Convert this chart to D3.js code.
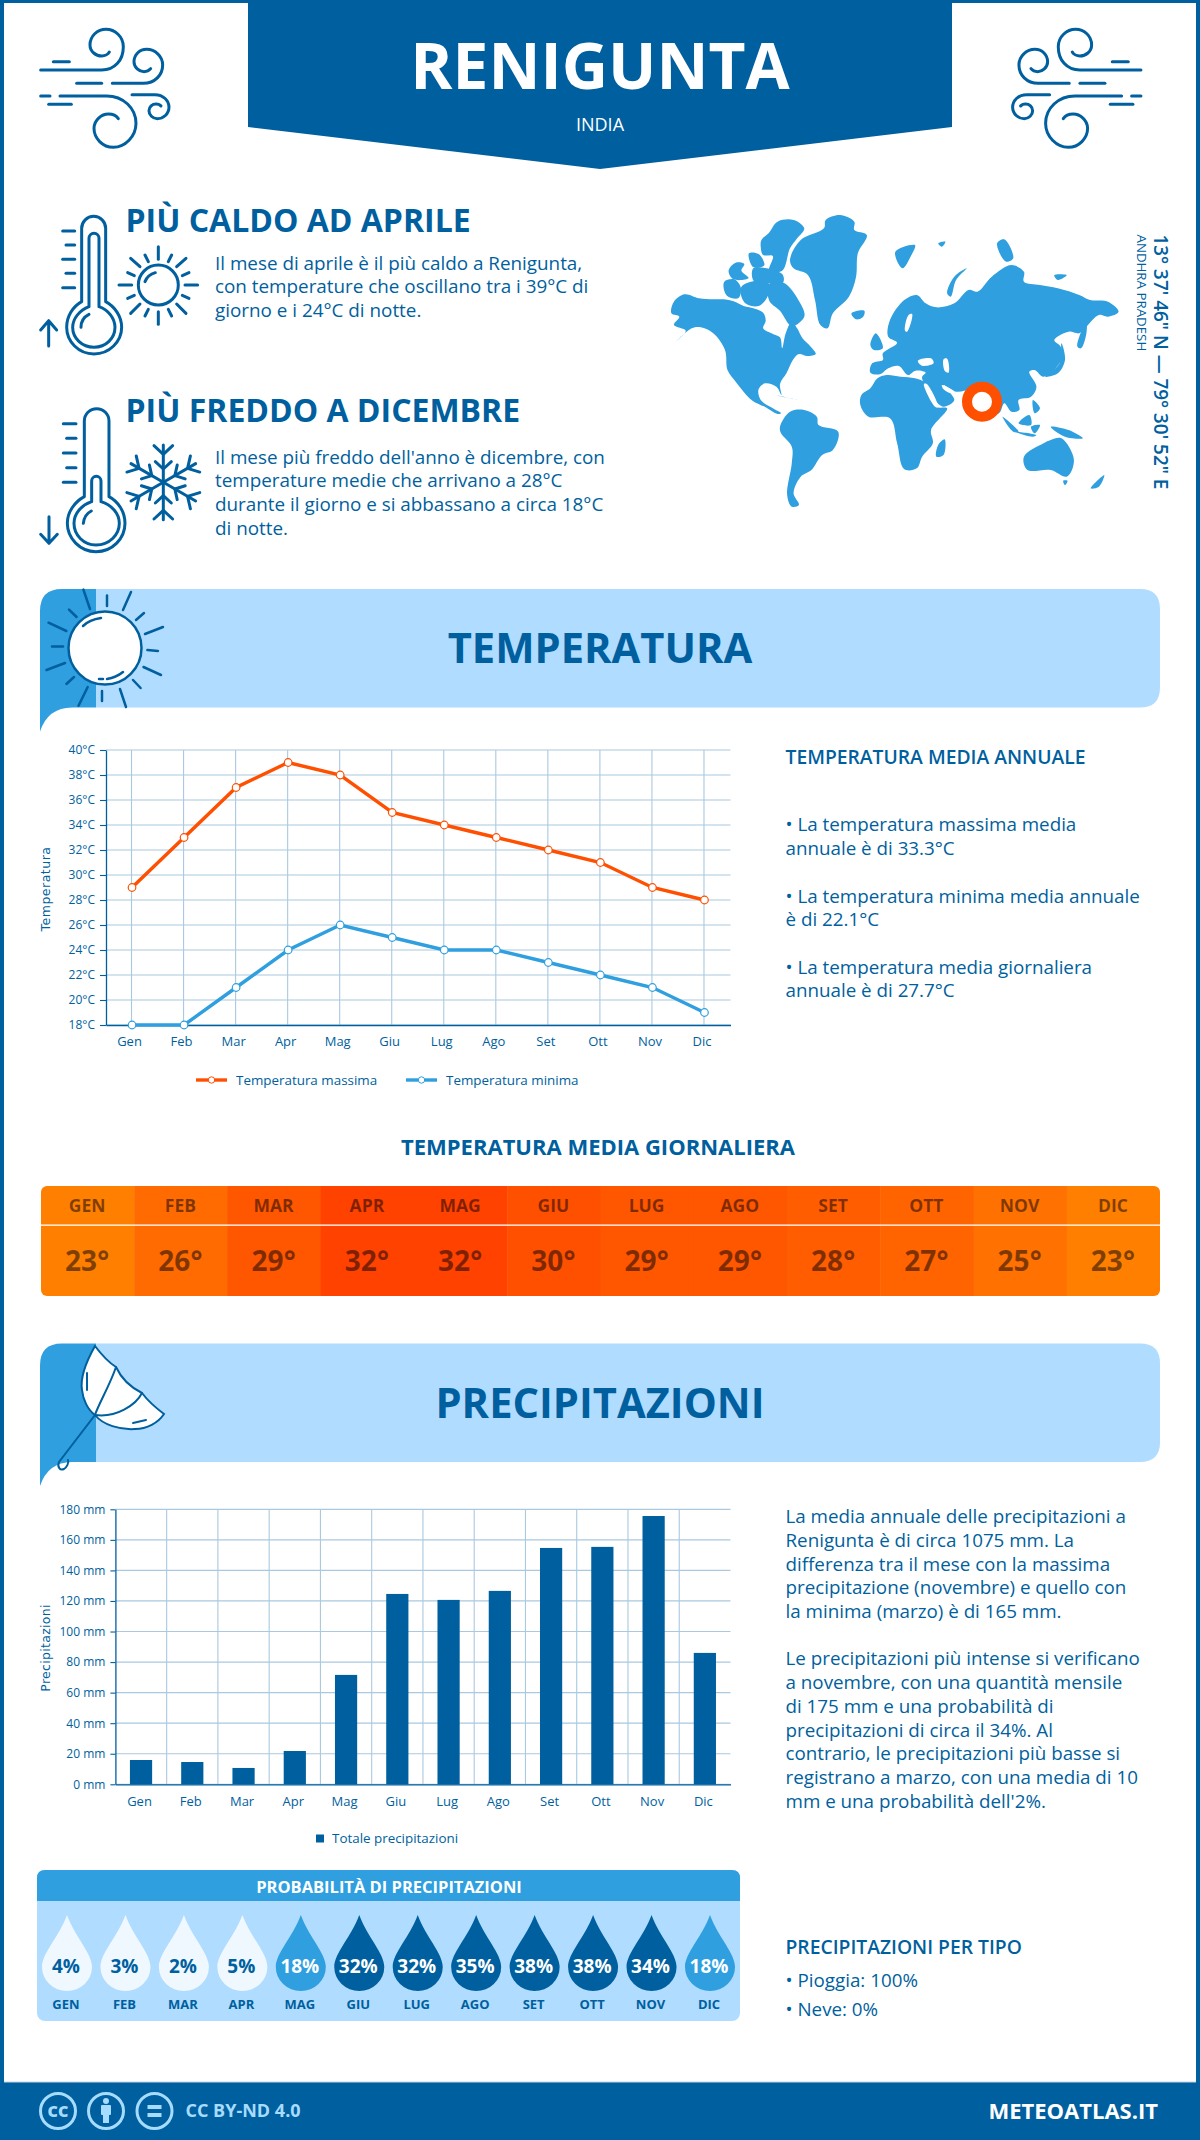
<!DOCTYPE html>
<html>
<head>
<meta charset="utf-8">
<script src="https://cdn.jsdelivr.net/npm/d3@7"></script>
<style>
  body { margin: 0; background: #fff; }
  svg { display: block; }
  text { font-family: "Open Sans", sans-serif; fill: #005f9e; }
</style>
</head>
<body>
<script>
const months = ['Gen', 'Feb', 'Mar', 'Apr', 'Mag', 'Giu', 'Lug', 'Ago', 'Set', 'Ott', 'Nov', 'Dic'];
const tempMax = [29, 33, 37, 39, 38, 35, 34, 33, 32, 31, 29, 28];
const tempMin = [18, 18, 21, 24, 26, 25, 24, 24, 23, 22, 21, 19];
const tempAvg = [23, 26, 29, 32, 32, 30, 29, 29, 28, 27, 25, 23];
const precip = [15.9, 14.6, 10.7, 21.8, 71.6, 124.6, 120.7, 126.6, 154.7, 155.4, 175.6, 86];
const rainChance = [4, 3, 2, 5, 18, 32, 32, 35, 38, 38, 34, 18];
const tempTicks = [18, 20, 22, 24, 26, 28, 30, 32, 34, 36, 38, 40];
const precipTicks = [0, 20, 40, 60, 80, 100, 120, 140, 160, 180];

const blue = '#005f9e', mid = '#2f9fdf', light = '#b0dcff', orange = '#ff4f00', grid = '#aac9e0';

const svg = d3.select('body').append('svg').attr('width', 1200).attr('height', 2140);

function label(txt, x, y, size, weight, opts = {}) {
  return svg.append('text').attr('x', x).attr('y', y).text(txt)
    .style('font-size', size + 'px').style('font-weight', weight || 400)
    .style('text-anchor', opts.anchor || 'start')
    .style('fill', opts.fill || blue);
}
function lines(arr, x, ys, size) {
  arr.forEach((t, i) => label(t, x, ys[i], size, 400));
}

// frame + header
svg.append('rect').attr('width', 1200).attr('height', 3).attr('fill', blue);
svg.append('rect').attr('width', 4).attr('height', 2140).attr('fill', blue);
svg.append('rect').attr('x', 1196).attr('width', 4).attr('height', 2140).attr('fill', blue);
svg.append('path').attr('d', 'M248 0H952V127L600 169L248 127Z').attr('fill', blue);
label('RENIGUNTA', 600, 89, 64, 700, { anchor: 'middle', fill: '#fff' });
label('INDIA', 600, 131, 18, 400, { anchor: 'middle', fill: '#fff' });

function icon(g, paths, width) {
  g.selectAll('path.s').data(paths).enter().append('path').attr('class', 's').attr('d', d => d)
    .attr('fill', 'none').attr('stroke', blue).attr('stroke-width', width)
    .attr('stroke-linecap', 'round').attr('stroke-linejoin', 'round');
}

const wind = [
  'M62 180H245C285 180 310 150 310 110C310 80 285 58 258 58C232 58 210 78 210 105C210 125 228 138 245 138C255 138 265 132 268 126',
  'M100 155H148', 'M170 220H245',
  'M277 220H370C405 220 428 195 428 165C428 138 405 118 380 118C358 118 342 135 342 155C342 172 358 185 372 185C380 185 388 181 392 176',
  'M62 258H90',
  'M120 258H260C310 258 348 295 348 340C348 380 315 412 280 412C248 412 222 385 222 355C222 330 245 312 265 312C280 312 290 318 295 326',
  'M86 283H154',
  'M336 254H405C430 254 447 272 447 292C447 312 430 326 412 326C398 326 387 315 387 302C387 290 397 282 408 282C415 282 420 284 423 288'
];
icon(svg.append('g').attr('transform', 'translate(20,10) scale(0.3333)'), wind, 9);
icon(svg.append('g').attr('transform', 'translate(1161.6,10) scale(-0.3333,0.3333)'), wind, 9);

// hot / cold blocks
const hot = [
  'M155 305V85A36 36 0 0 1 227 85V305C255 320 275 350 275 382C275 425 238 462 192 462C146 462 110 425 110 382C110 350 128 320 155 305Z',
  'M177 320V115A15 15 0 0 1 207 115V320C235 330 255 355 255 382C255 415 228 442 192 442C156 442 128 415 128 382C128 355 150 330 177 320Z',
  'M153 382C153 365 163 350 177 343',
  'M98 93H134', 'M108 135H134', 'M98 178H134', 'M108 220H134', 'M98 263H134',
  'M56 438V362M32 390L56 362L80 390',
  'M385 140V178', 'M385 335V373', 'M465 255H503', 'M267 255H305',
  'M302 175L330 200', 'M468 175L440 200', 'M302 340L330 312', 'M468 340L440 312',
  'M345 165L355 185', 'M425 165L415 185', 'M293 218L313 227', 'M477 218L457 227',
  'M293 295L313 286', 'M477 295L457 286', 'M345 348L355 328', 'M425 348L415 328',
  'M345 245C350 232 362 222 376 218',
  'M445 255A60 60 0 1 1 325 255A60 60 0 1 1 445 255Z'
];
icon(svg.append('g').attr('transform', 'translate(30,200) scale(0.3333)'), hot, 9);

const cold = [
  'M163 305V78A37 37 0 0 1 237 78V305C265 320 285 350 285 385C285 430 248 470 198 470C150 470 112 430 112 385C112 350 135 320 163 305Z',
  'M185 320V258A14 14 0 0 1 213 258V320C245 330 268 355 268 385C268 420 238 450 198 450C160 450 132 420 132 385C132 355 155 330 185 320Z',
  'M160 385C162 368 170 355 184 348',
  'M100 86H138', 'M110 130H138', 'M100 174H138', 'M110 218H138', 'M100 262H138',
  'M57 365V445M32 418L57 445L82 418'
];
const coldG = svg.append('g').attr('transform', 'translate(30,395) scale(0.3333)');
icon(coldG, cold, 9);
d3.range(6).forEach(i => {
  icon(coldG.append('g').attr('transform', `translate(400,262) rotate(${i * 60})`),
    ['M0 0V-112', 'M-28 -110L0 -84L28 -110', 'M-24 -62L0 -40L24 -62'], 9);
});

label('PIÙ CALDO AD APRILE', 125.5, 232, 32, 700);
lines(['Il mese di aprile è il più caldo a Renigunta,', 'con temperature che oscillano tra i 39°C di', 'giorno e i 24°C di notte.'],
  215, [270, 293, 317], 18.85);
label('PIÙ FREDDO A DICEMBRE', 125.5, 422, 32, 700);
lines(["Il mese più freddo dell'anno è dicembre, con", 'temperature medie che arrivano a 28°C', 'durante il giorno e si abbassano a circa 18°C', 'di notte.'],
  215, [464, 487, 511, 535], 18.85);

// world map, traced by hand
const land = [
  [[95,305],[125,283],[165,295],[205,298],[235,298],[262,304],[290,318],[322,326],[345,338],[352,362],[345,385],[372,402],[392,412],[398,445],[408,400],[425,365],[440,385],[455,415],[478,440],[492,462],[468,468],[445,462],[428,480],[410,520],[392,552],[396,585],[382,560],[350,550],[332,568],[338,600],[372,625],[395,640],[385,642],[352,622],[315,602],[290,575],[268,545],[245,510],[238,450],[205,400],[170,382],[145,385],[100,425],[128,392],[95,375],[110,350],[88,340]],
  [[340,120],[360,100],[385,65],[430,60],[460,85],[440,115],[420,145],[398,212],[362,212],[372,168],[345,165],[338,140]],
  [[248,212],[268,188],[292,192],[284,212],[304,234],[262,238]],
  [[236,245],[264,238],[282,262],[276,294],[250,292],[238,278]],
  [[305,160],[332,162],[348,196],[318,202]],
  [[318,204],[398,222],[400,248],[345,248],[318,242]],
  [[362,252],[402,248],[448,308],[460,350],[425,378],[392,332],[362,302]],
  [[284,260],[325,242],[360,250],[358,288],[332,318],[298,312],[284,290]],
  [[420,180],[450,120],[515,85],[520,60],[560,45],[600,65],[600,90],[635,105],[610,160],[605,230],[585,290],[540,340],[525,385],[505,375],[490,300],[470,225],[430,205]],
  [[592,340],[628,332],[625,350],[605,358]],
  [[392,680],[420,635],[460,630],[495,650],[500,675],[555,695],[540,750],[510,765],[480,810],[450,830],[430,880],[445,915],[425,920],[412,885],[425,790],[425,740],[395,700]],
  [[645,565],[665,535],[690,525],[730,530],[770,535],[800,550],[830,620],[860,625],[815,690],[820,730],[790,770],[775,805],[740,808],[720,730],[700,655],[640,650],[617,615],[620,585]],
  [[645,518],[650,490],[680,480],[680,460],[720,428],[695,410],[700,360],[740,300],[775,285],[800,310],[830,322],[880,310],[920,270],[945,275],[985,230],[1040,195],[1075,215],[1075,245],[1120,255],[1170,265],[1230,285],[1260,300],[1310,305],[1340,335],[1310,350],[1285,345],[1250,380],[1230,400],[1200,395],[1160,420],[1178,440],[1180,480],[1130,530],[1105,510],[1090,515],[1110,560],[1095,590],[1060,600],[1062,630],[1040,635],[1020,610],[1005,640],[960,640],[940,570],[885,575],[850,555],[880,600],[850,620],[825,600],[795,550],[790,530],[800,518],[772,512],[750,525],[725,498],[695,505],[672,523]],
  [[645,435],[660,400],[680,445],[655,450]],
  [[1135,530],[1175,490],[1180,430],[1190,480],[1170,520]],
  [[860,280],[880,230],[915,205],[885,240],[870,290]],
  [[715,155],[770,135],[760,165],[735,205]],
  [[835,130],[855,125],[845,140]],
  [[1000,130],[1020,118],[1045,175],[1025,185]],
  [[1160,225],[1195,225],[1170,240]],
  [[1225,440],[1230,410],[1250,370],[1250,400],[1235,445]],
  [[830,770],[835,735],[853,718],[850,765]],
  [[1075,770],[1130,730],[1150,720],[1180,715],[1215,780],[1195,830],[1150,810],[1085,810]],
  [[1185,842],[1197,842],[1190,855]],
  [[1262,865],[1300,825],[1285,860]],
  [[1015,650],[1060,695],[1045,695]],
  [[1060,670],[1090,645],[1095,675]],
  [[1050,695],[1110,705],[1100,710]],
  [[1150,680],[1200,690],[1240,715],[1190,710]],
  [[1100,600],[1120,625],[1105,640]],
  [[1095,680],[1120,675],[1105,700]],
  [[380,585],[440,600],[405,592]]
];
const seas = [
  [[850,478],[860,476],[864,518],[854,514]], [[778,482],[815,475],[822,490],[790,497]],
  [[752,345],[762,342],[748,395],[742,392]], [[795,552],[803,552],[835,622],[826,620]],
  [[845,555],[880,575],[870,580],[850,568]]
];
const mapG = svg.append('g').attr('transform', 'translate(640,200) scale(0.35714,0.33333)');
const ring = d3.line().curve(d3.curveCatmullRomClosed.alpha(0.5));
mapG.selectAll('path.land').data(land).enter().append('path').attr('class', 'land').attr('d', ring).attr('fill', mid);
mapG.selectAll('path.sea').data(seas).enter().append('path').attr('class', 'sea').attr('d', ring).attr('fill', '#fff');
svg.append('circle').attr('cx', 982).attr('cy', 401.7).attr('r', 15).attr('fill', '#fff').attr('stroke', orange).attr('stroke-width', 10);

svg.append('text').attr('transform', 'translate(1154,234.5) rotate(90)').text('13° 37\' 46" N — 79° 30\' 52" E')
  .style('font-size', '18.9px').style('font-weight', 600);
svg.append('text').attr('transform', 'translate(1137,234.5) rotate(90)').text('ANDHRA PRADESH')
  .style('font-size', '13.3px');

// section banners
function banner(top, title, base) {
  const bottom = top + 118.5;
  svg.append('path').attr('d', `M96 ${top}H1140Q1160 ${top} 1160 ${top + 20}V${bottom - 20}Q1160 ${bottom} 1140 ${bottom}H96Z`).attr('fill', light);
  svg.append('path').attr('d', `M40 ${bottom + 24}V${top + 22}Q40 ${top} 62 ${top}H96V${bottom}H72Q48 ${bottom} 40 ${bottom + 24}Z`).attr('fill', mid);
  label(title, 600, base, 41.7, 700, { anchor: 'middle' });
}
banner(589, 'TEMPERATURA', 662.6);
banner(1343.5, 'PRECIPITAZIONI', 1418);

const sunG = svg.append('g');
sunG.append('circle').attr('cx', 105).attr('cy', 648).attr('r', 36.5).attr('fill', '#fff').attr('stroke', blue).attr('stroke-width', 2.5);
icon(sunG, [
  'M83.4 589.6L90 609', 'M131 592L123 610', 'M163 627L145 634', 'M161 675L143.5 667',
  'M126 707L120 689', 'M78.5 705.7L87.7 687', 'M46.5 670L65 663', 'M48.5 622.7L66.4 631',
  'M107 595.5V606', 'M144 613L136 620', 'M158 651L147.4 650', 'M140.6 688L133 680',
  'M102 701V691', 'M66.4 684L74 677', 'M52 646.5H63', 'M76.6 617L69 609.6',
  'M83 626C87 622 94 619 101 618', 'M107 679C113 678 118 676 123 672', 'M99 679H103'
], 2.5);

const umbrella = svg.append('g');
umbrella.append('path').attr('d', 'M95 1346C101 1354 108 1362 116 1367C122 1380 132 1388 142 1393C148 1401 156 1408 164 1414C158 1423 147 1429 135 1429C120 1430 103 1425 95 1415C88 1410 83 1400 82 1390C80 1378 86 1362 95 1346Z')
  .attr('fill', '#fff').attr('stroke', blue).attr('stroke-width', 2);
icon(umbrella, [
  'M116 1367C110 1385 98 1405 95 1415', 'M142 1393C136 1405 116 1418 95 1415',
  'M95 1415L59 1462C57 1467 60 1471 64 1469C67 1467 69 1463 68 1460',
  'M87 1373V1390', 'M133 1423L146 1420'
], 2);

// temperature chart
const tx = d3.scaleBand().domain(months).range([106, 730.5]);
const ty = d3.scaleLinear().domain([18, 40]).range([1025, 750]);
const tempChart = svg.append('g');
tempChart.selectAll('line.gy').data(tempTicks).enter().append('line').attr('class', 'gy')
  .attr('x1', 106).attr('x2', 730.5).attr('y1', d => ty(d)).attr('y2', d => ty(d)).attr('stroke', grid).attr('stroke-width', 1.2);
tempChart.selectAll('line.gx').data(months).enter().append('line').attr('class', 'gx')
  .attr('x1', d => tx(d) + tx.bandwidth() / 2 - 0.5).attr('x2', d => tx(d) + tx.bandwidth() / 2 - 0.5)
  .attr('y1', 750).attr('y2', 1025).attr('stroke', grid).attr('stroke-width', 1.1);

function styleAxis(g) {
  g.select('.domain').attr('stroke', blue).attr('stroke-width', 1.3);
  g.selectAll('.tick line').attr('stroke', blue).attr('stroke-width', 1.1);
  g.selectAll('text').style('font-size', '12px').style('font-family', '"Open Sans", sans-serif').style('fill', blue);
}
function monthLabels(g, shift) {
  g.selectAll('text').attr('dx', shift).style('font-size', '13px');
}
tempChart.append('g').attr('transform', 'translate(106,0)')
  .call(d3.axisLeft(ty).tickValues(tempTicks).tickSize(6).tickPadding(5).tickSizeOuter(0).tickFormat(d => d + '°C')).call(styleAxis);
tempChart.append('g').attr('transform', 'translate(0,1025)')
  .call(d3.axisBottom(tx).tickSize(0).tickPadding(12)).call(styleAxis).call(monthLabels, -2.5);

const tline = d3.line().x((d, i) => tx(months[i]) + tx.bandwidth() / 2).y(d => ty(d));
[[tempMax, orange], [tempMin, mid]].forEach(([vals, col]) => {
  tempChart.append('path').attr('d', tline(vals)).attr('fill', 'none').attr('stroke', col).attr('stroke-width', 3.4);
  tempChart.selectAll(null).data(vals).enter().append('circle')
    .attr('cx', (d, i) => tx(months[i]) + tx.bandwidth() / 2).attr('cy', d => ty(d)).attr('r', 3.8)
    .attr('fill', '#fff').attr('stroke', col).attr('stroke-width', 1.2);
});
[['Temperatura massima', orange, 196], ['Temperatura minima', mid, 406]].forEach(([name, col, x]) => {
  tempChart.append('line').attr('x1', x).attr('x2', x + 31).attr('y1', 1080).attr('y2', 1080).attr('stroke', col).attr('stroke-width', 3.4);
  tempChart.append('circle').attr('cx', x + 15.5).attr('cy', 1080).attr('r', 3.2).attr('fill', '#fff').attr('stroke', col);
  label(name, x + 40, 1084.5, 13.4);
});
svg.append('text').attr('transform', 'translate(49.5,889) rotate(-90)').text('Temperatura')
  .style('font-family', '"DejaVu Sans", sans-serif').style('font-size', '12.5px').style('text-anchor', 'middle').style('letter-spacing', '0.5px');

label('TEMPERATURA MEDIA ANNUALE', 785.5, 764, 19.3, 600);
lines(['• La temperatura massima media', 'annuale è di 33.3°C', '• La temperatura minima media annuale', 'è di 22.1°C', '• La temperatura media giornaliera', 'annuale è di 27.7°C'],
  785.5, [831, 854.5, 902.5, 926, 973.5, 997], 18.8);

// daily mean strip
label('TEMPERATURA MEDIA GIORNALIERA', 598, 1155, 22, 700, { anchor: 'middle' });
const strip = d3.scaleBand().domain(months).range([41, 1160]);
const heat = d3.scaleLinear().domain([23, 32]).range(['#ff7f00', '#ff4200']);
svg.append('clipPath').attr('id', 'stripClip').append('rect').attr('x', 41).attr('y', 1186).attr('width', 1119).attr('height', 110).attr('rx', 6);
const stripG = svg.append('g').attr('clip-path', 'url(#stripClip)');
stripG.selectAll('rect').data(months).enter().append('rect')
  .attr('x', d => strip(d)).attr('y', 1186).attr('width', strip.bandwidth() + 0.5).attr('height', 110)
  .attr('fill', (d, i) => heat(tempAvg[i]));
stripG.append('rect').attr('x', 41).attr('y', 1224.5).attr('width', 1119).attr('height', 1.3).attr('fill', '#fff');
months.forEach((m, i) => {
  const cx = strip(m) + strip.bandwidth() / 2 - 0.5;
  label(m.toUpperCase(), cx, 1212, 17.5, 700, { anchor: 'middle', fill: '#000' }).style('fill-opacity', 0.5);
  label(tempAvg[i] + '°', cx, 1271, 28, 700, { anchor: 'middle', fill: '#000' }).style('fill-opacity', 0.5);
});

// precipitation chart
const px = d3.scaleBand().domain(months).range([115.4, 730.5]);
const py = d3.scaleLinear().domain([0, 180]).range([1784.3, 1509.3]);
const rainChart = svg.append('g');
rainChart.selectAll('line.gy').data(precipTicks).enter().append('line').attr('class', 'gy')
  .attr('x1', 115.4).attr('x2', 730.5).attr('y1', d => py(d)).attr('y2', d => py(d)).attr('stroke', grid).attr('stroke-width', 1.2);
rainChart.selectAll('line.gx').data(months.slice(1)).enter().append('line').attr('class', 'gx')
  .attr('x1', d => px(d)).attr('x2', d => px(d)).attr('y1', 1509.3).attr('y2', 1784.3).attr('stroke', grid).attr('stroke-width', 1.1);
rainChart.selectAll('rect').data(precip).enter().append('rect')
  .attr('x', (d, i) => px(months[i]) + px.bandwidth() / 2 - 11.1).attr('width', 22.2)
  .attr('y', d => py(d)).attr('height', d => py(0) - py(d)).attr('fill', blue);
rainChart.append('g').attr('transform', 'translate(115.4,0)')
  .call(d3.axisLeft(py).tickValues(precipTicks).tickSize(5).tickPadding(5).tickSizeOuter(0).tickFormat(d => d + ' mm')).call(styleAxis);
rainChart.append('g').attr('transform', 'translate(0,1784.3)')
  .call(d3.axisBottom(px).tickSize(0).tickPadding(12)).call(styleAxis).call(monthLabels, -1.5);
rainChart.append('rect').attr('x', 316).attr('y', 1834.5).attr('width', 8).attr('height', 8).attr('fill', blue);
label('Totale precipitazioni', 332, 1843, 13.4);
svg.append('text').attr('transform', 'translate(49.5,1648) rotate(-90)').text('Precipitazioni')
  .style('font-family', '"DejaVu Sans", sans-serif').style('font-size', '12.5px').style('text-anchor', 'middle').style('letter-spacing', '0.3px');

lines(['La media annuale delle precipitazioni a', 'Renigunta è di circa 1075 mm. La', 'differenza tra il mese con la massima', 'precipitazione (novembre) e quello con', 'la minima (marzo) è di 165 mm.'],
  785.5, [1523, 1546.7, 1570.5, 1594.3, 1618], 18.8);
lines(['Le precipitazioni più intense si verificano', 'a novembre, con una quantità mensile', 'di 175 mm e una probabilità di', 'precipitazioni di circa il 34%. Al', 'contrario, le precipitazioni più basse si', 'registrano a marzo, con una media di 10', "mm e una probabilità dell'2%."],
  785.5, [1665, 1689, 1712.7, 1736.5, 1760, 1784, 1808], 18.8);

// rain chance panel
svg.append('rect').attr('x', 37).attr('y', 1870).attr('width', 703).attr('height', 151).attr('rx', 8).attr('fill', light);
svg.append('path').attr('d', 'M37 1901V1878Q37 1870 45 1870H732Q740 1870 740 1878V1901Z').attr('fill', mid);
label('PROBABILITÀ DI PRECIPITAZIONI', 389, 1893, 16.5, 700, { anchor: 'middle', fill: '#fff' });
const drop = d3.scalePoint().domain(months).range([67, 710]);
months.forEach((m, i) => {
  const v = rainChance[i], x = drop(m);
  const col = v < 10 ? '#eff8ff' : v < 30 ? mid : blue;
  svg.append('path').attr('transform', `translate(${x},1915)`)
    .attr('d', 'M0 0C8 22 25 38 25 52A25 24 0 0 1 -25 52C-25 38 -8 22 0 0Z').attr('fill', col);
  label(v + '%', x - 1, 1973, 19, 700, { anchor: 'middle', fill: v < 10 ? blue : '#fff' });
  label(m.toUpperCase(), x - 1, 2009, 13, 700, { anchor: 'middle' });
});

label('PRECIPITAZIONI PER TIPO', 785.5, 1953.5, 19.3, 600);
lines(['• Pioggia: 100%', '• Neve: 0%'], 785.5, [1986.5, 2016], 18.8);

// footer
svg.append('rect').attr('y', 2082).attr('width', 1200).attr('height', 58).attr('fill', blue);
svg.append('rect').attr('x', 4).attr('y', 2081.5).attr('width', 1192).attr('height', 1).attr('fill', '#c8d6e0');
const ccCol = '#a6dcff';
[58, 106, 154.5].forEach(x => {
  svg.append('circle').attr('cx', x).attr('cy', 2111).attr('r', 17.5).attr('fill', 'none').attr('stroke', ccCol).attr('stroke-width', 3);
});
label('CC', 58, 2117, 16, 800, { anchor: 'middle', fill: ccCol });
svg.append('circle').attr('cx', 106).attr('cy', 2101).attr('r', 3).attr('fill', ccCol);
svg.append('rect').attr('x', 101).attr('y', 2105).attr('width', 10).attr('height', 10).attr('rx', 1).attr('fill', ccCol);
svg.append('rect').attr('x', 103).attr('y', 2113).attr('width', 6).attr('height', 10).attr('fill', ccCol);
svg.append('rect').attr('x', 147.5).attr('y', 2105).attr('width', 14).attr('height', 4).attr('fill', ccCol);
svg.append('rect').attr('x', 147.5).attr('y', 2113).attr('width', 14).attr('height', 4).attr('fill', ccCol);
label('CC BY-ND 4.0', 185.5, 2117, 18, 700, { fill: ccCol });
label('METEOATLAS.IT', 1158, 2119, 22, 700, { anchor: 'end', fill: '#fff' });
</script>
</body>
</html>
